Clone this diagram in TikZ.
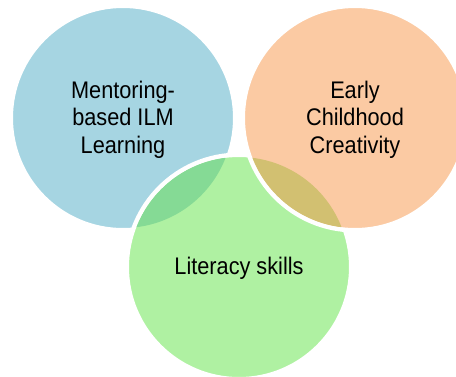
\documentclass[tikz,border=0pt]{standalone}
\usepackage{fontspec}
\setmainfont[FakeStretch=0.905]{Liberation Sans}
\definecolor{cblue}{HTML}{A6D5E2}
\definecolor{corange}{HTML}{FBCAA3}
\definecolor{cgreen}{HTML}{AFF1A2}
\definecolor{clensg}{HTML}{85DA95}
\definecolor{clenso}{HTML}{D2C071}
\tikzset{
  venn/.style={circle,draw=white,line width=4.5pt,minimum size=224.5pt,inner sep=0pt,outer sep=0pt},
  vennlabel/.style={inner sep=0pt,align=center,text=black,yshift=-1.6pt,
    font=\fontsize{24}{27.6}\selectfont},
}
\begin{document}
\begin{tikzpicture}[x=1pt,y=-1pt]
\useasboundingbox (0,0) rectangle (456,376);
\clip (0,0) rectangle (456,376);
\fill[white] (0,0) rectangle (456,376);
\node[venn,fill=cblue] (m) at (123,118) {};
\node[venn,fill=cgreen] (l) at (239,267) {};
\begin{scope}
  \clip (l.center) circle[radius=110];
  \fill[clensg] (m.center) circle[radius=110];
\end{scope}
\node[venn,fill=corange] (e) at (355,118) {};
\begin{scope}
  \clip (l.center) circle[radius=110];
  \fill[clenso] (e.center) circle[radius=110];
\end{scope}
\node[vennlabel] (mt) at (m.center) {Mentoring-\\based ILM\\Learning};
\node[vennlabel] (lt) at (l.center) {Literacy skills};
\node[vennlabel] (et) at (e.center) {Early\\Childhood\\Creativity};
\end{tikzpicture}
\end{document}
